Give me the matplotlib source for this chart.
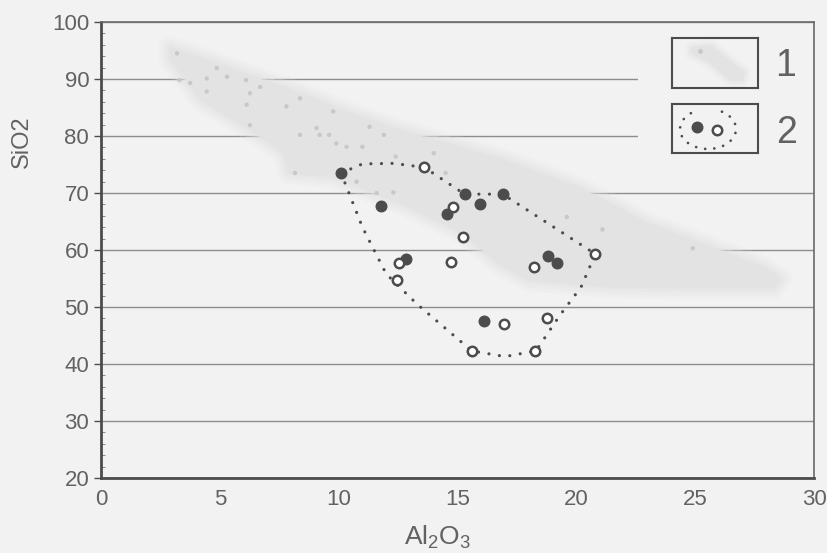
import numpy as np
import matplotlib
matplotlib.use("Agg")
import matplotlib.pyplot as plt
from matplotlib.patches import Polygon, Rectangle

plt.rcParams['font.family'] = ['Liberation Sans', 'DejaVu Sans']
plt.rcParams['mathtext.fontset'] = 'custom'
plt.rcParams['mathtext.rm'] = 'Liberation Sans'
plt.rcParams['mathtext.it'] = 'Liberation Sans'

# field 1: outline of the grey band (Al2O3, SiO2)
band_x = [2.9, 4.9, 8.4, 10.5, 12.6, 16.8, 20.1, 23.0, 25.7, 27.9, 28.6,
          28.3, 24.4, 21.5, 18.0, 16.7, 15.2, 13.0, 9.8, 7.9, 7.7, 6.3, 4.2, 2.9]
band_y = [95.6, 92.7, 87.5, 84.0, 81.0, 76.0, 71.0, 64.7, 60.5, 57.0, 55.0,
          53.3, 53.3, 53.5, 54.7, 57.7, 63.0, 67.5, 72.8, 73.5, 77.0, 81.0, 86.3, 93.5]

# field 1: individual analyses inside the band
f1_x = [3.2, 3.3, 3.75, 4.45, 4.87, 5.3, 6.1, 6.7, 4.45, 6.27, 6.13, 7.8, 8.37,
        9.77, 6.27, 8.37, 9.2, 9.6, 9.07, 11.3, 11.9, 9.9, 10.33, 11.0, 12.4,
        14.0, 14.5, 8.16, 10.75, 11.6, 12.3, 19.6, 21.1, 24.9]
f1_y = [94.5, 89.8, 89.3, 90.1, 91.9, 90.4, 89.8, 88.6, 87.8, 87.5, 85.5, 85.2,
        86.6, 84.3, 81.9, 80.2, 80.2, 80.2, 81.4, 81.6, 80.2, 78.7, 78.1, 78.1,
        76.4, 77.0, 73.5, 73.5, 72.0, 70.0, 70.1, 65.8, 63.6, 60.3]

# field 2: filled samples
fill_x = [10.1, 11.8, 12.85, 14.55, 15.3, 15.95, 16.9, 18.82, 19.2, 16.1]
fill_y = [73.5, 67.7, 58.5, 66.4, 69.8, 68.1, 69.8, 58.9, 57.8, 47.5]

# field 2: open samples
open_x = [13.6, 14.8, 15.25, 14.72, 12.55, 12.47, 18.2, 20.8, 16.97, 18.78, 15.6, 18.28]
open_y = [74.5, 67.5, 62.3, 57.9, 57.7, 54.7, 57.0, 59.3, 47.0, 48.0, 42.3, 42.3]

# field 2: dotted contour
hull_x = [10.1, 11.0, 12.3, 13.6, 15.3, 16.9, 20.8, 20.2, 19.3, 18.3, 17.0, 15.6, 13.3, 12.0, 11.0, 10.1]
hull_y = [73.5, 75.1, 75.2, 74.5, 69.8, 69.8, 59.3, 53.5, 48.5, 42.3, 41.3, 42.3, 50.5, 55.8, 64.0, 73.5]

bg = '#f2f2f2'
ink = '#4c4c4c'
txt = '#626262'
band_col = '#e3e3e3'
dots = (0, (0.01, 3.3))

fig = plt.figure(figsize=(8.27, 5.53), dpi=100, facecolor=bg)
ax = fig.add_axes([101 / 827, 1 - 478 / 553, 713 / 827, 456 / 553])
ax.set_facecolor(bg)
ax.set_xlim(0, 30)
ax.set_ylim(20, 100)
ax.set_xticks(range(0, 31, 5))
ax.set_yticks(range(20, 101, 10))
ax.set_yticks(range(20, 101, 2), minor=True)
ax.tick_params(axis='both', which='major', labelsize=16, labelcolor=txt,
               color=ink, length=5, direction='out', width=1)
ax.tick_params(axis='y', which='minor', length=3, direction='in', color='#777777')
ax.tick_params(axis='x', which='major', length=0, pad=8)
ax.grid(axis='y', color='#8c8c8c', lw=1, zorder=0)
ax.set_axisbelow(True)
for s in ['left', 'bottom']:
    ax.spines[s].set_color(ink)
    ax.spines[s].set_linewidth(2)
for s in ['top', 'right']:
    ax.spines[s].set_color('#6a6a6a')
    ax.spines[s].set_linewidth(1.2)

# blank area behind the key
ax.add_patch(Rectangle((22.6, 74.5), 7.4, 24.5, facecolor=bg, edgecolor='none', zorder=1))

# grey band with a soft rim
band = np.column_stack([band_x, band_y])
for lw, a in [(16, 0.18), (11, 0.25), (6, 0.35), (2, 0.5)]:
    ax.add_patch(Polygon(band, closed=True, facecolor='none', edgecolor=band_col,
                         lw=lw, alpha=a, joinstyle='round', zorder=1.5))
ax.add_patch(Polygon(band, closed=True, facecolor=band_col, edgecolor='none', zorder=1.6))
ax.scatter(f1_x, f1_y, s=10, color='#c8c8c8', edgecolors='none', zorder=2)

ax.plot(hull_x, hull_y, color=ink, lw=2.3, linestyle=dots, dash_capstyle='round', zorder=3)
ax.plot(fill_x, fill_y, 'o', color=ink, ms=7.6, mec=ink, zorder=4)
ax.plot(open_x, open_y, 'o', mfc='white', mec=ink, ms=6.8, mew=1.8, zorder=5)

fig.text(22 / 827, 1 - 142 / 553, 'SiO2', rotation=90, ha='center', va='center',
         fontsize=17, color=txt)
fig.text(437 / 827, 1 - 537 / 553, r'Al$_2$O$_3$', ha='center', va='center',
         fontsize=19, color=txt)

# key box 1: piece of the band
k1 = fig.add_axes([672 / 827, 1 - 88 / 553, 86 / 827, 50 / 553])
k1.set_xlim(0, 1)
k1.set_ylim(0, 1)
k1.set_xticks([])
k1.set_yticks([])
k1.set_facecolor(bg)
blob = [[0.22, 0.82], [0.45, 0.86], [0.85, 0.32], [0.82, 0.14], [0.68, 0.14], [0.42, 0.52], [0.22, 0.68]]
for lw, a in [(8, 0.25), (4, 0.4)]:
    k1.add_patch(Polygon(blob, closed=True, facecolor='none', edgecolor=band_col,
                         lw=lw, alpha=a, joinstyle='round'))
k1.add_patch(Polygon(blob, closed=True, facecolor=band_col, edgecolor='none'))
k1.plot([0.32], [0.75], 'o', ms=3.5, color='#c8c8c8', mec='none')
for s in k1.spines.values():
    s.set_color(ink)
    s.set_linewidth(1.5)

# key box 2: filled and open sample in a dotted ring
k2 = fig.add_axes([672 / 827, 1 - 153 / 553, 86 / 827, 49 / 553])
k2.set_xlim(0, 86)
k2.set_ylim(49, 0)
k2.set_xticks([])
k2.set_yticks([])
k2.set_facecolor(bg)
t = np.linspace(np.radians(-60), np.radians(245), 40)
k2.plot(36 + 28 * np.cos(t), 25 + 20 * np.sin(t), color=ink, lw=2, linestyle=dots,
        dash_capstyle='round')
k2.plot([24.5], [23], 'o', color=ink, ms=7.6)
k2.plot([45], [26], 'o', mfc='white', mec=ink, ms=6.8, mew=1.8)
for s in k2.spines.values():
    s.set_color(ink)
    s.set_linewidth(1.5)

fig.text(786 / 827, 1 - 66 / 553, '1', ha='center', va='center', fontsize=27, color=txt)
fig.text(787 / 827, 1 - 133 / 553, '2', ha='center', va='center', fontsize=27, color=txt)

fig.savefig('out.png', dpi=100, facecolor=bg)
